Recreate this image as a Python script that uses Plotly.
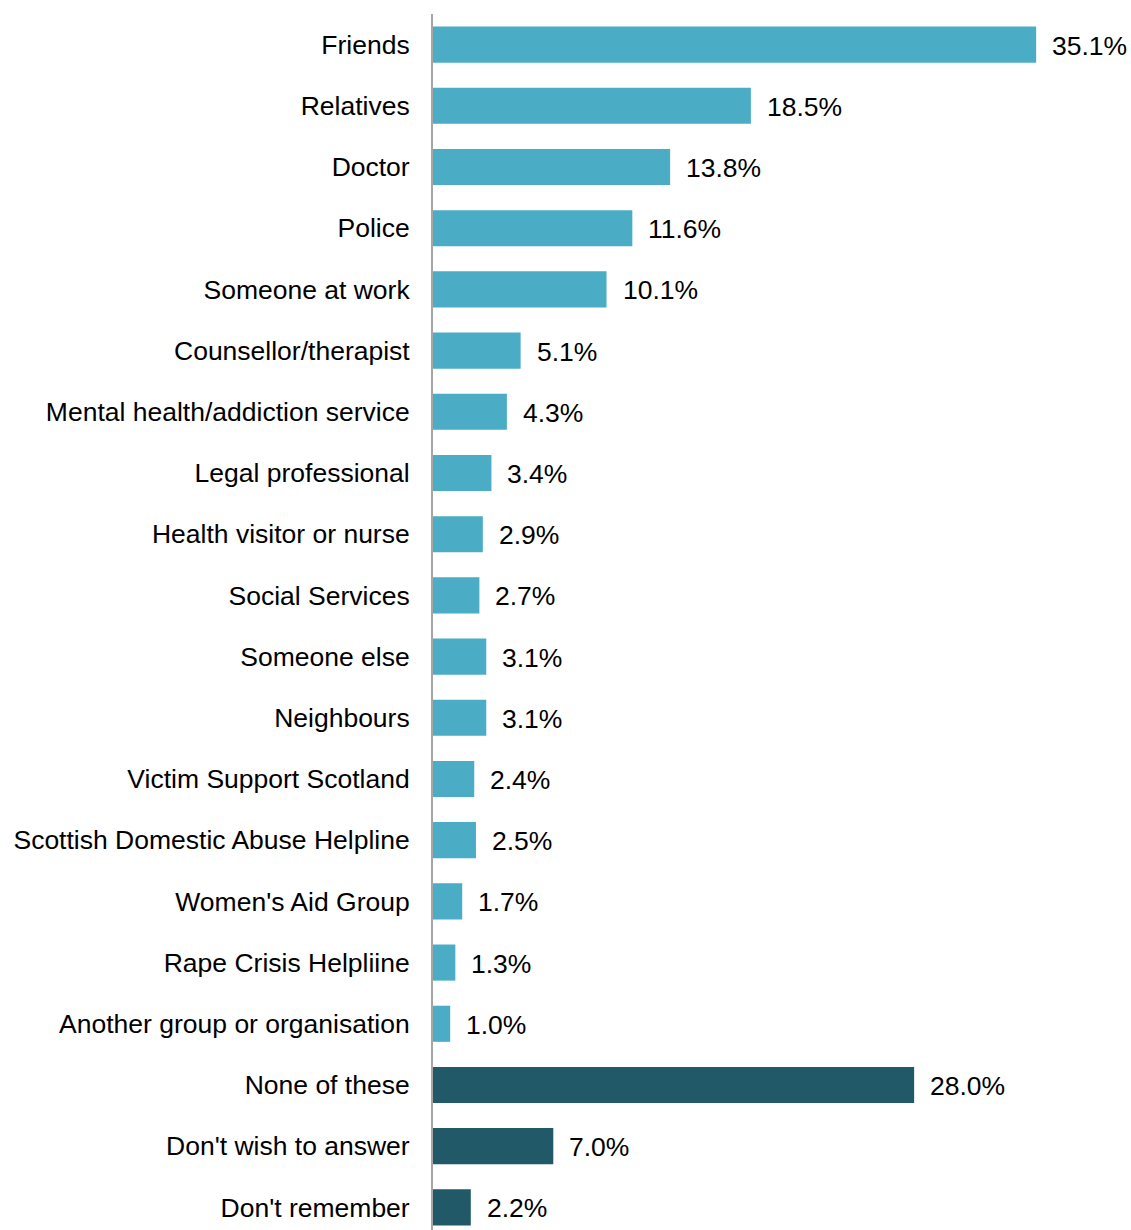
import plotly.graph_objects as go

# Who people told about the incident (% of respondents)
categories = [
    "Friends", "Relatives", "Doctor", "Police", "Someone at work",
    "Counsellor/therapist", "Mental health/addiction service",
    "Legal professional", "Health visitor or nurse", "Social Services",
    "Someone else", "Neighbours", "Victim Support Scotland",
    "Scottish Domestic Abuse Helpline", "Women's Aid Group",
    "Rape Crisis Helpliine", "Another group or organisation",
    "None of these", "Don't wish to answer", "Don't remember",
]
values = [35.1, 18.5, 13.8, 11.6, 10.1, 5.1, 4.3, 3.4, 2.9, 2.7,
          3.1, 3.1, 2.4, 2.5, 1.7, 1.3, 1.0, 28.0, 7.0, 2.2]
groups = ["source"] * 17 + ["other"] * 3

palette = {"source": "#4BACC6", "other": "#215968"}
bar_colors = [palette[g] for g in groups]

FONT = "Liberation Sans, Arial, sans-serif"

fig = go.Figure(
    go.Bar(
        x=values,
        y=categories,
        orientation="h",
        marker=dict(color=bar_colors, line=dict(width=0)),
        hoverinfo="skip",
    )
)

for cat, val in zip(categories, values):
    fig.add_annotation(
        x=val, y=cat, text=f"{val:.1f}%",
        xanchor="left", yanchor="middle", xshift=14, yshift=-1,
        showarrow=False, font=dict(family=FONT, size=26.5, color="#000000"),
    )

fig.update_layout(
    width=1131, height=1230,
    margin=dict(l=433, r=0, t=14, b=0),
    paper_bgcolor="white", plot_bgcolor="white",
    bargap=0.41,
    showlegend=False,
    font=dict(family=FONT, size=26.5, color="#000000"),
)
fig.update_xaxes(range=[0, 40.62], visible=False, fixedrange=True)
fig.update_yaxes(
    type="category",
    range=[19.37, -0.5],
    showline=True, linecolor="#A6A6A6", linewidth=2,
    showgrid=False, zeroline=False, ticks="",
    ticklabelstandoff=16,
    tickfont=dict(family=FONT, size=26.5, color="#000000"),
    fixedrange=True,
)

fig.write_html("out.html")
